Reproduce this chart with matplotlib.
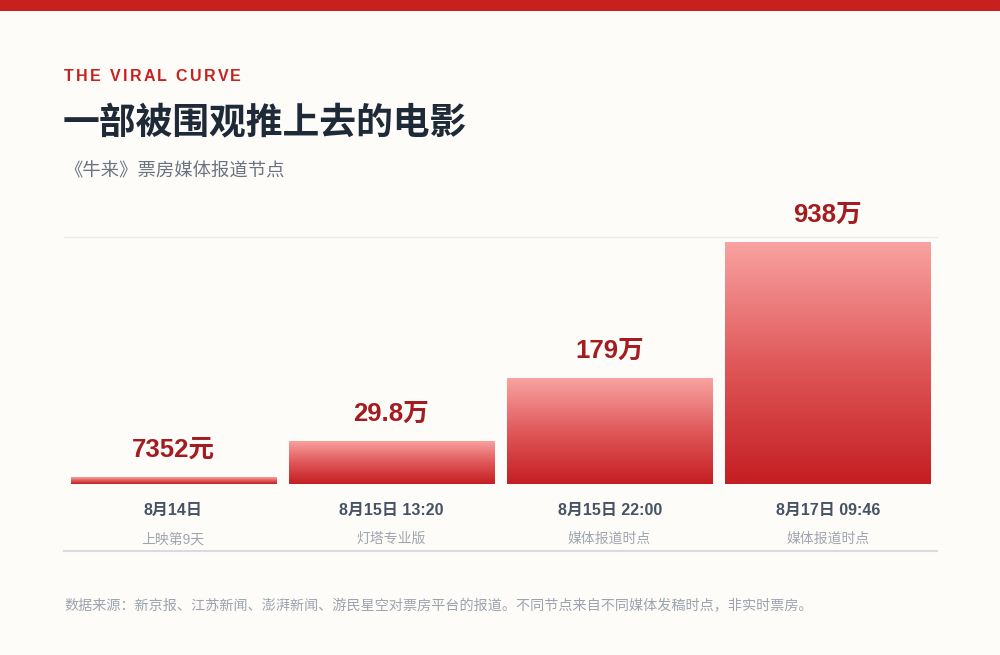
import numpy as np
import matplotlib
matplotlib.use("Agg")
import matplotlib.pyplot as plt
from matplotlib.colors import LinearSegmentedColormap
from matplotlib.patches import Rectangle
from matplotlib.lines import Line2D

plt.rcParams['font.family'] = ['Liberation Sans', 'Noto Sans CJK SC']

# 数据
categories = ['8月14日', '8月15日 13:20', '8月15日 22:00', '8月17日 09:46']
sources = ['上映第9天', '灯塔专业版', '媒体报道时点', '媒体报道时点']
box_office = [7352, 298000, 1790000, 9380000]  # 元
value_labels = ['7352元', '29.8万', '179万', '938万']

BG = '#fdfcf8'
RED = '#c8201f'

fig = plt.figure(figsize=(10, 6.55), dpi=100, facecolor=BG)
H = 655.0

# 顶部红条
fig.add_artist(Rectangle((0, 1 - 11 / H), 1, 11 / H, transform=fig.transFigure,
                         color=RED, lw=0))

# 小标题，字母间距
kicker = 'THE VIRAL CURVE'
renderer = fig.canvas.get_renderer()
kprop = matplotlib.font_manager.FontProperties(family='Liberation Sans', weight='bold', size=11.5)
full_w = renderer.get_text_width_height_descent(kicker, kprop, ismath=False)[0]
spacing = (177 - full_w) / (len(kicker) - 1)
for i, ch in enumerate(kicker):
    pre = renderer.get_text_width_height_descent(kicker[:i], kprop, ismath=False)[0] if i else 0
    fig.text((64 + pre + i * spacing) / 1000, 1 - 76.7 / H, ch, fontproperties=kprop,
             color=RED, va='center', ha='left')

fig.text(0.063, 1 - 123.5 / H, '一部被围观推上去的电影', fontsize=26.5, fontweight='bold',
         color='#1f2a38', va='center', ha='left')
fig.text(0.064, 1 - 171.7 / H, '《牛来》票房媒体报道节点', fontsize=13.2,
         color='#6b7280', va='center', ha='left')

# 主图
ax = fig.add_axes([0.064, 171 / H, 0.873, 247.3 / H])
ax.set_facecolor('none')
ax.set_yscale('function', functions=(lambda v: np.sqrt(np.clip(v, 0, None)), lambda v: np.square(v)))
x = np.arange(len(categories))
ymax = 9.78e6
ax.set_xlim(-0.5, len(categories) - 0.5)
ax.set_ylim(0, ymax)

bars = ax.bar(x, box_office, width=0.94, color='none', edgecolor='none')
ax.set_autoscale_on(False)

cmap = LinearSegmentedColormap.from_list('grad', ['#c41e22', '#e0595a', '#f9a3a2'])
grad = np.linspace(0, 1, 256).reshape(-1, 1)
to_axes = ax.transData + ax.transAxes.inverted()
for b, v in zip(bars, box_office):
    (ax0, _), (ax1, top) = to_axes.transform([(b.get_x(), 0), (b.get_x() + b.get_width(), v)])
    im = ax.imshow(grad, cmap=cmap, origin='lower', aspect='auto',
                   extent=(ax0, ax1, 0, top), transform=ax.transAxes, interpolation='bilinear')
    im.set_clip_path(b)

ax.set_xlim(-0.5, len(categories) - 0.5)
ax.set_ylim(0, ymax)

for xi, v, lab in zip(x, box_office, value_labels):
    ax.annotate(lab, xy=(xi, v), xytext=(0, 14.5), textcoords='offset points',
                ha='center', va='baseline', fontsize=18.5, fontweight='bold', color='#a51c20')

for xi, cat, src in zip(x, categories, sources):
    ax.annotate(cat, xy=(xi, 0), xycoords=('data', 'axes fraction'), xytext=(0, -19.2),
                textcoords='offset points', ha='center', va='center',
                fontsize=11.5, fontweight='bold', color='#475264')
    ax.annotate(src, xy=(xi, 0), xycoords=('data', 'axes fraction'), xytext=(0, -39.8),
                textcoords='offset points', ha='center', va='center',
                fontsize=10, color='#a0a6b0')

ax.axhline(ymax, color='#ebebeb', lw=1, clip_on=False)
for s in ax.spines.values():
    s.set_visible(False)
ax.set_xticks([])
ax.set_yticks([])
ax.minorticks_off()

fig.add_artist(Line2D([0.064, 0.937], [1 - 551 / H] * 2, transform=fig.transFigure,
                      color='#d8dbe0', lw=1.5))

fig.text(0.064, 1 - 606 / H,
         '数据来源：新京报、江苏新闻、澎湃新闻、游民星空对票房平台的报道。不同节点来自不同媒体发稿时点，非实时票房。',
         fontsize=10.15, color='#9ca3af', va='center', ha='left')

fig.savefig('out.png', dpi=100, facecolor=BG)
